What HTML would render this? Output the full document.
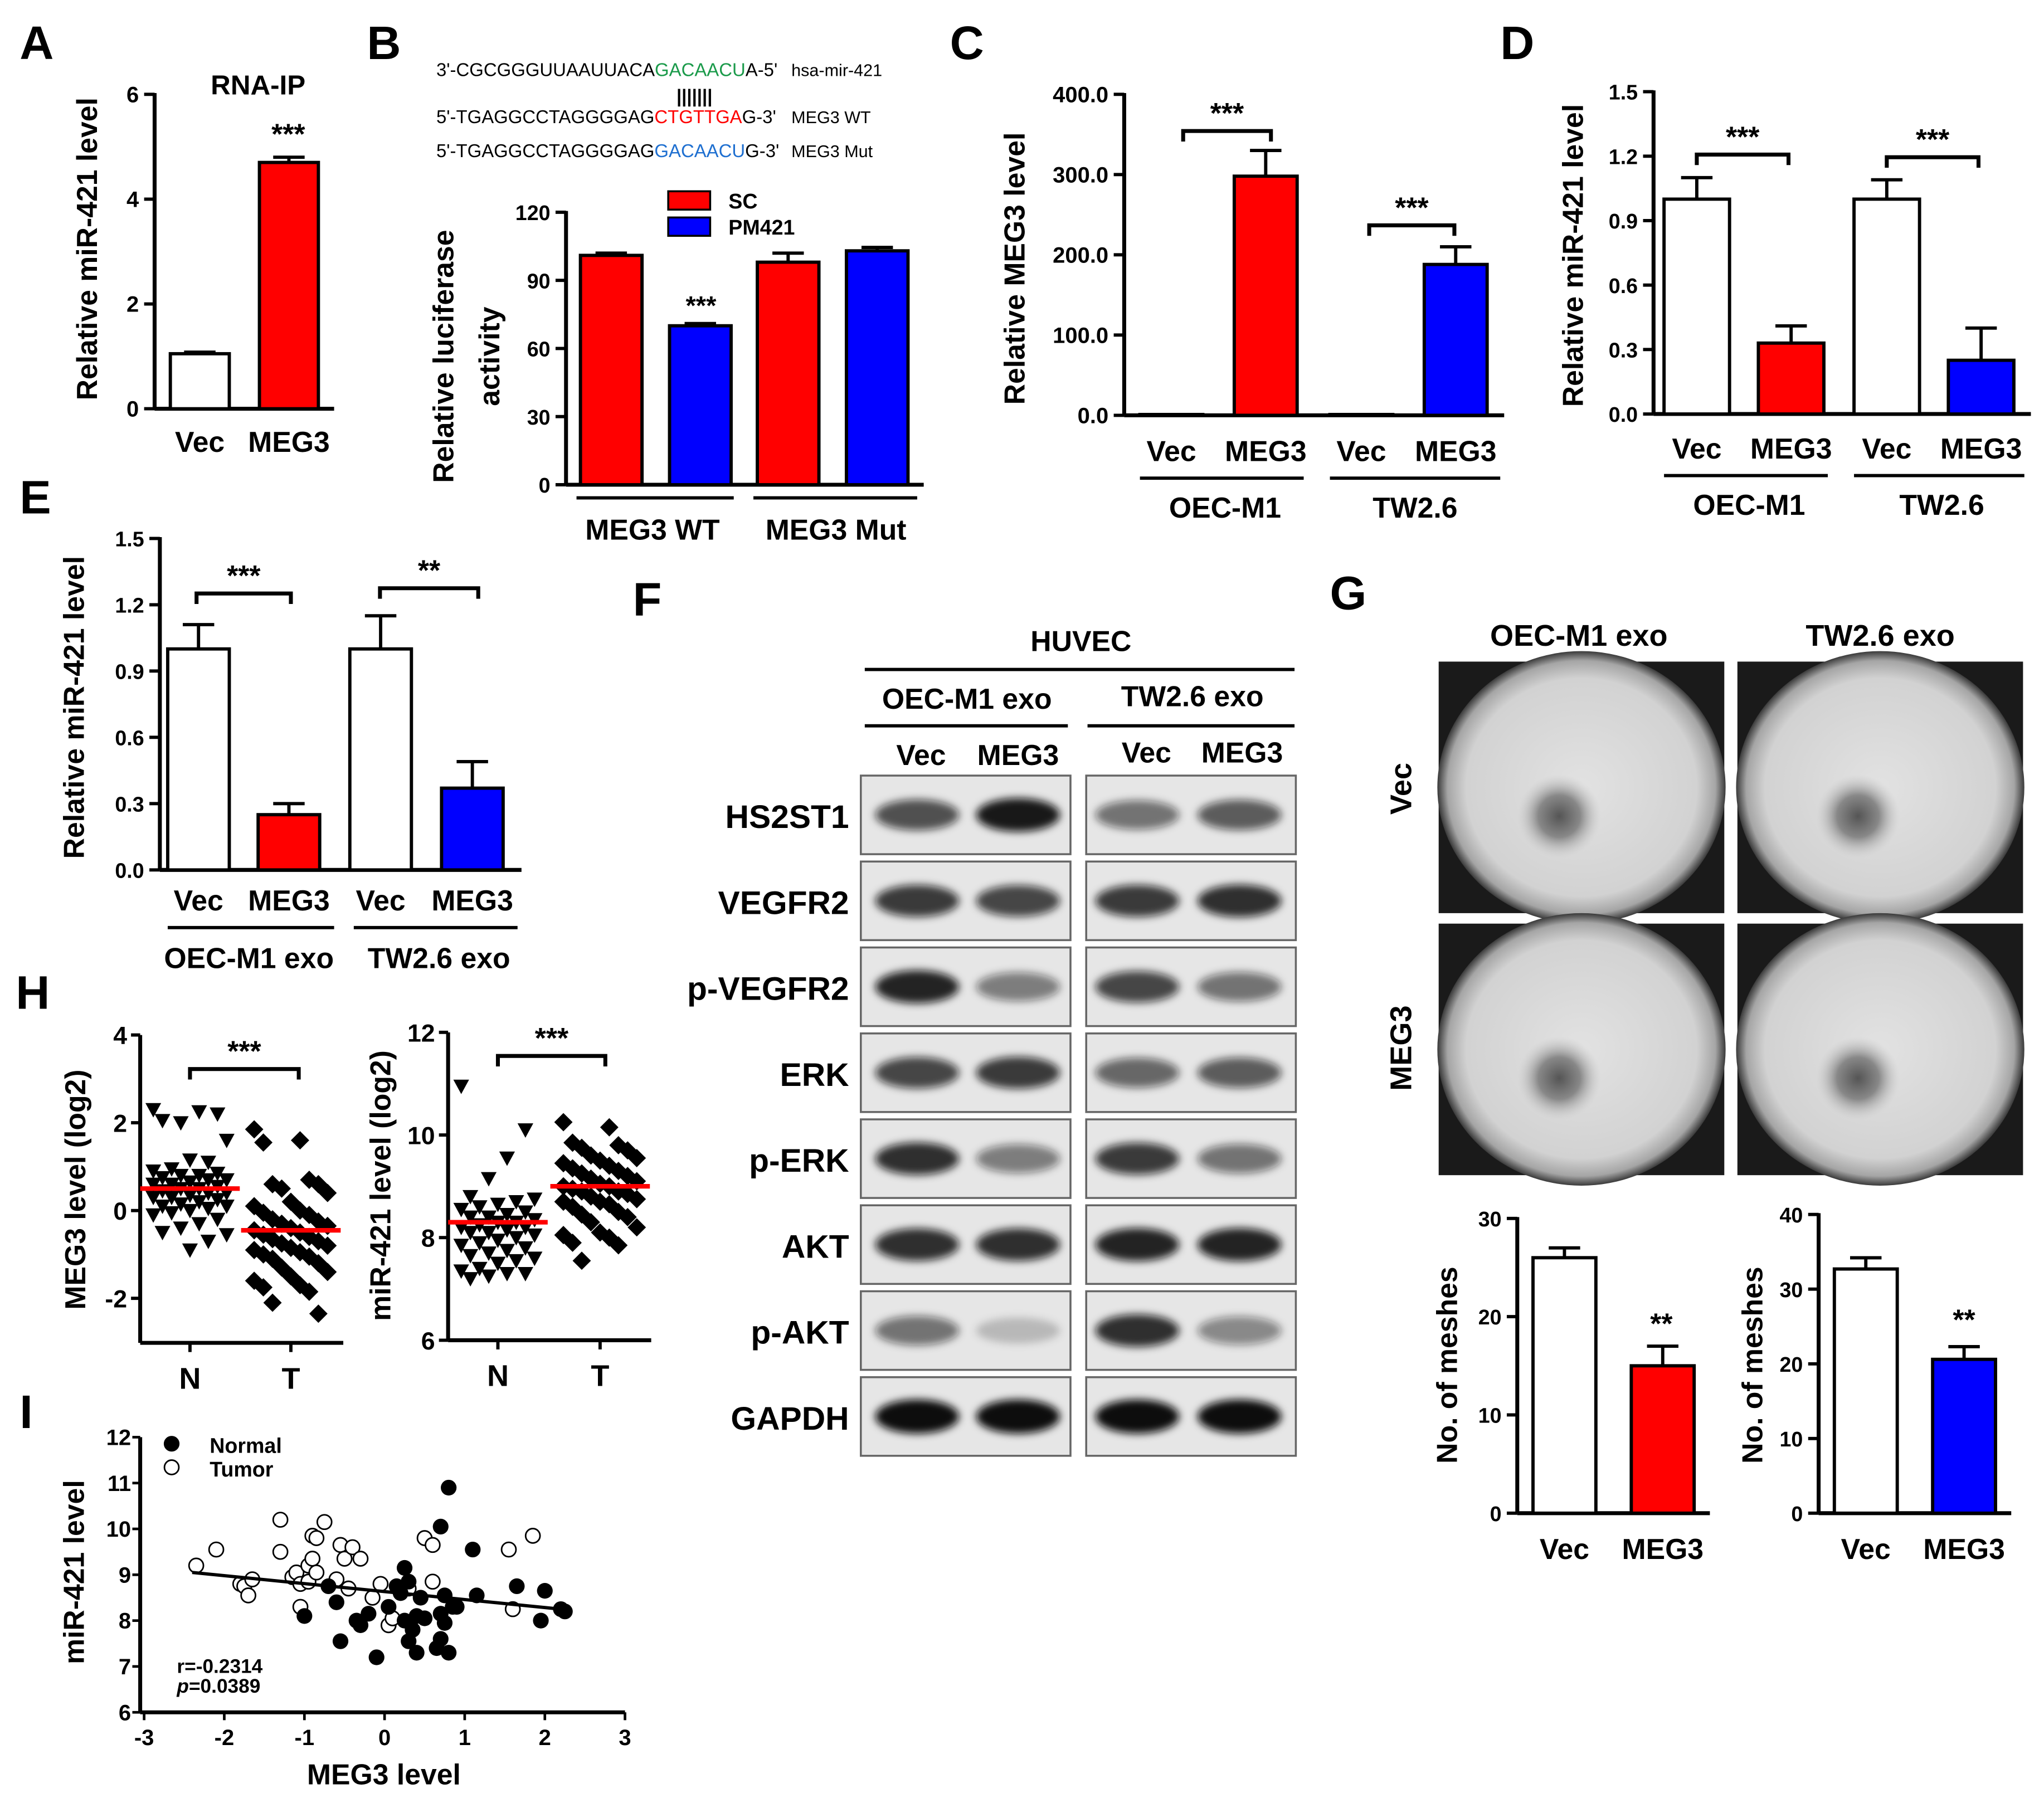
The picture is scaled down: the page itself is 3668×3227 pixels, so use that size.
<!DOCTYPE html>
<html><head><meta charset="utf-8">
<style>
html,body{margin:0;padding:0;background:#fff;}
svg{display:block;}
text{font-family:"Liberation Sans",sans-serif;font-weight:bold;fill:#000;}
</style></head>
<body>
<svg id="fig" width="3668" height="3227" viewBox="0 0 1560 1372.4" preserveAspectRatio="none" xmlns="http://www.w3.org/2000/svg">
<defs>
<filter id="blur" x="-30%" y="-60%" width="160%" height="220%"><feGaussianBlur stdDeviation="3"/></filter>
<radialGradient id="dish" cx="50%" cy="50%" r="50%">
<stop offset="0%" stop-color="#e2e2e2"/><stop offset="80%" stop-color="#d2d2d2"/><stop offset="93%" stop-color="#a5a5a5"/><stop offset="100%" stop-color="#3a3a3a"/>
</radialGradient>
<radialGradient id="spot" cx="50%" cy="50%" r="50%">
<stop offset="0%" stop-color="#555"/><stop offset="50%" stop-color="#888"/><stop offset="100%" stop-color="#c8c8c8" stop-opacity="0"/>
</radialGradient>
</defs>
<g id="root"></g>
</svg>
<script>
// ---------- data ----------
const aCats=["Vec","MEG3"], aVals=[1.05,4.7], aErr=[0.03,0.1], aTicks=[0,2,4,6];
const bCats=["SC","PM421","SC","PM421"], bVals=[101,70,98,103], bErr=[1,1,4,1.5], bTicks=[0,30,60,90,120];
const cCats=["Vec","MEG3","Vec","MEG3"], cVals=[1,298,1,188], cErr=[0,32,0,22], cTicks=[0,100,200,300,400];
const dCats=["Vec","MEG3","Vec","MEG3"], dVals=[1.0,0.33,1.0,0.25], dErr=[0.1,0.08,0.09,0.15], dTicks=[0,0.3,0.6,0.9,1.2,1.5];
const eCats=["Vec","MEG3","Vec","MEG3"], eVals=[1.0,0.25,1.0,0.37], eErr=[0.11,0.05,0.15,0.12], eTicks=[0,0.3,0.6,0.9,1.2,1.5];
const g1Cats=["Vec","MEG3"], g1Vals=[26,15], g1Err=[1,2], g1Ticks=[0,10,20,30];
const g2Cats=["Vec","MEG3"], g2Vals=[32.7,20.6], g2Err=[1.5,1.7], g2Ticks=[0,10,20,30,40];
const hMegN=[2.3,2.2,2.25,2.0,2.05,1.6,1.1,1.15,0.95,0.9,0.85,0.8,0.8,0.75,0.7,0.7,0.65,0.6,0.6,0.55,0.5,0.5,0.45,0.4,0.4,0.35,0.3,0.3,0.25,0.2,0.15,0.1,0.1,0.05,0.0,-0.05,-0.1,-0.2,-0.3,-0.4,-0.5,-0.55,-0.7,-0.9];
const hMegT=[1.85,1.6,1.55,0.7,0.6,0.6,0.5,0.4,0.2,0.1,0.0,-0.05,-0.1,-0.2,-0.25,-0.3,-0.35,-0.4,-0.45,-0.5,-0.55,-0.6,-0.65,-0.7,-0.75,-0.8,-0.85,-0.9,-0.95,-1.0,-1.05,-1.1,-1.2,-1.3,-1.4,-1.5,-1.6,-1.7,-1.75,-1.85,-2.1,-2.35];
const hMirN=[10.95,10.1,9.55,9.15,8.8,8.75,8.7,8.65,8.6,8.55,8.5,8.45,8.4,8.4,8.35,8.3,8.3,8.25,8.2,8.2,8.15,8.1,8.1,8.05,8.0,7.95,7.9,7.85,7.8,7.75,7.7,7.65,7.6,7.55,7.5,7.4,7.35,7.3,7.3,7.25,7.2];
const hMirT=[10.25,10.15,9.85,9.8,9.75,9.7,9.6,9.55,9.5,9.45,9.4,9.35,9.3,9.25,9.2,9.15,9.1,9.05,9.0,9.0,8.95,8.9,8.9,8.85,8.8,8.75,8.7,8.7,8.65,8.6,8.5,8.45,8.4,8.3,8.2,8.1,8.05,8.0,7.9,7.85,7.55];
const hMeans=[0.5,-0.45,8.3,9.0];
const iNormX=[0.8,0.7,1.1,0.25,-0.7,-0.6,-1,-0.55,-0.35,-0.3,-0.2,-0.1,0.05,0.15,0.2,0.25,0.3,0.3,0.4,0.35,0.4,0.5,0.45,0.65,0.7,0.7,0.75,0.75,0.8,0.85,0.9,1.15,1.65,1.95,2.0,2.2,2.25];
const iNormY=[10.9,10.05,9.55,9.15,8.75,8.4,8.1,7.55,8.0,7.9,8.15,7.2,8.3,8.75,8.6,8.0,7.55,8.85,8.1,7.8,7.3,8.05,8.5,7.4,7.6,8.15,8.55,7.95,7.3,8.3,8.3,8.55,8.75,8.0,8.65,8.25,8.2];
const iTumX=[-2.35,-2.1,-1.8,-1.75,-1.65,-1.7,-1.3,-1.3,-1.15,-1.1,-1.05,-1.05,-0.95,-0.95,-0.9,-0.9,-0.85,-0.85,-0.75,-0.55,-0.5,-0.4,-0.3,-0.6,-0.45,-0.15,-0.05,0.05,0.1,0.3,0.5,0.6,0.6,1.55,1.6,1.85];
const iTumY=[9.2,9.55,8.8,8.75,8.9,8.55,10.2,9.5,8.95,9.05,8.3,8.8,8.85,9.2,9.35,9.85,9.8,9.05,10.15,9.65,9.35,9.6,9.35,8.9,8.7,8.5,8.8,7.9,8.05,8.7,9.8,9.65,8.85,9.55,8.25,9.85];
const iFit=[-2.4,9.05,2.2,8.25];
const iXTicks=[-3,-2,-1,0,1,2,3], iYTicks=[6,7,8,9,10,11,12];
const blotNames=["HS2ST1","VEGFR2","p-VEGFR2","ERK","p-ERK","AKT","p-AKT","GAPDH"];
const blotInt=[[0.7,0.95,0.55,0.65],[0.8,0.75,0.8,0.85],[0.9,0.5,0.75,0.55],[0.75,0.8,0.6,0.65],[0.85,0.5,0.8,0.55],[0.85,0.85,0.9,0.9],[0.55,0.2,0.85,0.45],[1,1,1,1]];

// ---------- helpers ----------
const NS="http://www.w3.org/2000/svg", root=document.getElementById('root');
function el(tag,attrs,parent,txt){const e=document.createElementNS(NS,tag);for(const k in attrs)e.setAttribute(k,attrs[k]);if(txt!==undefined)e.textContent=txt;(parent||root).appendChild(e);return e;}
function txt(x,y,s,size,anchor,parent,rot){const t=el('text',{x:x,y:y,'font-size':size,'text-anchor':anchor||'middle'},parent,s);if(rot)t.setAttribute('transform','rotate(-90 '+x+' '+y+')');return t;}
function scale(d0,d1,r0,r1){return v=>r0+(v-d0)*(r1-r0)/(d1-d0);}

function barChart(name,cats,vals,errs,ticks,o){
  const g=el('g',{},root);
  
  
  const y=scale(ticks[0],ticks[ticks.length-1],o.y0,o.y1);
  el('line',{x1:o.ax,y1:o.y1-1,x2:o.ax,y2:o.y0,stroke:'#000','stroke-width':3},g);
  el('line',{x1:o.ax,y1:o.y0,x2:o.xEnd,y2:o.y0,stroke:'#000','stroke-width':3},g);
  ticks.forEach(t=>{const yy=y(t);el('line',{x1:o.ax-8,y1:yy,x2:o.ax,y2:yy,stroke:'#000','stroke-width':2.5},g);
    const l=txt(o.ax-12,yy+6,o.fmt?o.fmt(t):String(t),o.tf||17,'end',g);
    });
  cats.forEach((c,i)=>{const x0=o.bx[i],w=o.bw,v=vals[i],top=y(v);
    const b=el('rect',{x:x0,y:top,width:w,height:o.y0-top,fill:o.colors[i],stroke:'#000','stroke-width':2.5},g);
    
    if(errs[i]>0){const cx=x0+w/2,ye=y(v+errs[i]);el('line',{x1:cx,y1:top,x2:cx,y2:ye,stroke:'#000','stroke-width':2.5},g);el('line',{x1:cx-12,y1:ye,x2:cx+12,y2:ye,stroke:'#000','stroke-width':2.5},g);}
    if(o.xl){const l=txt(x0+w/2,o.xl,c,o.xf||22,'middle',g);}
  });
  return y;
}
function bracket(x1,x2,y,s){el('path',{d:`M${x1} ${y+8}V${y}H${x2}V${y+8}`,fill:'none',stroke:'#000','stroke-width':3});txt((x1+x2)/2,y-6,s,22);}
function letter(s,x,y){const t=txt(x,y,s,36,'start');}
function groupLine(x1,x2,y){el('line',{x1:x1,y1:y,x2:x2,y2:y,stroke:'#000','stroke-width':2.5});}

// ---------- Panel A ----------
letter('A',15,45);
barChart('panel-a-chart',aCats,aVals,aErr,aTicks,{ax:118,y0:312,y1:72,xEnd:255,bx:[130,198],bw:45,colors:['#fff','#f00'],xl:345});
txt(197,72,'RNA-IP',21);txt(220,110,'***',22);
txt(74,190,'Relative miR-421 level',22,'middle',null,true);

// ---------- Panel B ----------
letter('B',280,45);
const seqG=el('g',{'font-size':14},root);
function seq(y,parts,label){let t=el('text',{x:333,y:y,'font-size':14,'font-family':'Liberation Mono'},seqG);t.style.fontWeight='normal';parts.forEach(p=>{const s=el('tspan',{fill:p[1]},t,p[0]);});el('text',{x:604,y:y,'font-size':13},seqG,label).style.fontWeight='normal';}
seq(58,[["3'-CGCGGGUUAAUUACA","#000"],["GACAACU","#1a9a4a"],["A-5'","#000"]],'hsa-mir-421');
txt(530,78,'|||||||',14);
seq(94,[["5'-TGAGGCCTAGGGGAG","#000"],["CTGTTGA","#f00"],["G-3'","#000"]],'MEG3 WT');
seq(120,[["5'-TGAGGCCTAGGGGAG","#000"],["GACAACU","#1e6fd0"],["G-3'","#000"]],'MEG3 Mut');
barChart('panel-b-chart',bCats,bVals,bErr,bTicks,{ax:432,y0:370,y1:162,xEnd:705,bx:[443,511,578,646],bw:47,colors:['#f00','#00f','#f00','#00f'],tf:16});
txt(535,240,'***',20);
groupLine(440,560,380);groupLine(575,700,380);
txt(498,412,'MEG3 WT',22);txt(638,412,'MEG3 Mut',22);
el('rect',{x:510,y:146,width:32,height:14,fill:'#f00',stroke:'#000','stroke-width':1.5});txt(556,159,'SC',16,'start');
el('rect',{x:510,y:166,width:32,height:14,fill:'#00f',stroke:'#000','stroke-width':1.5});txt(556,179,'PM421',16,'start');
txt(346,272,'Relative luciferase',22,'middle',null,true);txt(381,272,'activity',22,'middle',null,true);

// ---------- Panel C ----------
letter('C',725,45);
barChart('panel-c-chart',cCats,cVals,cErr,cTicks,{ax:858,y0:317,y1:72,xEnd:1148,bx:[870,942,1015,1087],bw:48,colors:['#fff','#f00','#fff','#00f'],fmt:t=>t.toFixed(1),xl:352});
bracket(903,970,100,'***');bracket(1045,1110,172,'***');
groupLine(870,995,365);groupLine(1015,1145,365);
txt(935,395,'OEC-M1',22);txt(1080,395,'TW2.6',22);
txt(782,205,'Relative MEG3 level',22,'middle',null,true);

// ---------- Panel D ----------
letter('D',1145,45);
barChart('panel-d-chart',dCats,dVals,dErr,dTicks,{ax:1262,y0:316,y1:70,xEnd:1550,bx:[1270,1342,1415,1487],bw:50,colors:['#fff','#f00','#fff','#00f'],fmt:t=>t.toFixed(1),tf:16,xl:350});
bracket(1295,1365,118,'***');bracket(1440,1510,120,'***');
groupLine(1270,1395,363);groupLine(1415,1545,363);
txt(1335,393,'OEC-M1',22);txt(1482,393,'TW2.6',22);
txt(1208,195,'Relative miR-421 level',22,'middle',null,true);

// ---------- Panel E ----------
letter('E',15,392);
barChart('panel-e-chart',eCats,eVals,eErr,eTicks,{ax:122,y0:664,y1:411,xEnd:398,bx:[128,197,267,337],bw:47,colors:['#fff','#f00','#fff','#00f'],fmt:t=>t.toFixed(1),tf:16,xl:695});
bracket(150,222,453,'***');bracket(290,365,449,'**');
groupLine(128,255,708);groupLine(270,395,708);
txt(190,739,'OEC-M1 exo',22);txt(335,739,'TW2.6 exo',22);
txt(64,540,'Relative miR-421 level',22,'middle',null,true);

// ---------- Panel F ----------
letter('F',483,470);
txt(825,497,'HUVEC',22);groupLine(660,988,511);
txt(738,541,'OEC-M1 exo',22);txt(910,539,'TW2.6 exo',22);
groupLine(660,815,554);groupLine(830,988,554);
txt(703,584,'Vec',22);txt(777,584,'MEG3',22);txt(875,582,'Vec',22);txt(948,582,'MEG3',22);
const laneX=[700,777,868,946];
blotNames.forEach((n,r)=>{
  const top=592+r*65.6, g=el('g',{},root);
  
  
  el('rect',{x:657,y:top,width:160,height:60,fill:'#e6e6e6',stroke:'#666','stroke-width':1.5},g);
  el('rect',{x:829,y:top,width:160,height:60,fill:'#e6e6e6',stroke:'#666','stroke-width':1.5},g);
  blotInt[r].forEach((v,i)=>{el('ellipse',{cx:laneX[i],cy:top+30,rx:32,ry:9+4*v,fill:'#111','fill-opacity':v,filter:'url(#blur)'},g);});
  txt(648,top+40,n,25,'end',g);
});

// ---------- Panel G ----------
letter('G',1015,465);
txt(1205,493,'OEC-M1 exo',23);txt(1435,493,'TW2.6 exo',23);
txt(1077,602,'Vec',23,'middle',null,true);txt(1077,800,'MEG3',23,'middle',null,true);
[[1098,505],[1326,505],[1098,705],[1326,705]].forEach((p,i)=>{
  const g=el('g',{},root);
  
  
  el('rect',{x:p[0],y:p[1],width:218,height:192,fill:'#1a1a1a'},g);
  el('ellipse',{cx:p[0]+109,cy:p[1]+96,rx:110,ry:104,fill:'url(#dish)'},g);
  el('ellipse',{cx:p[0]+92,cy:p[1]+118,rx:32,ry:32,fill:'url(#spot)'},g);
});
barChart('panel-g-chart-oec',g1Cats,g1Vals,g1Err,g1Ticks,{ax:1158,y0:1155,y1:930,xEnd:1305,bx:[1170,1245],bw:48,colors:['#fff','#f00'],xl:1190,tf:16});
txt(1268,1018,'**',22);
txt(1112,1042,'No. of meshes',22,'middle',null,true);
barChart('panel-g-chart-tw',g2Cats,g2Vals,g2Err,g2Ticks,{ax:1388,y0:1155,y1:927,xEnd:1535,bx:[1400,1475],bw:48,colors:['#fff','#00f'],xl:1190,tf:16});
txt(1499,1015,'**',22);
txt(1345,1042,'No. of meshes',22,'middle',null,true);

// ---------- Panel H ----------
letter('H',12,770);
function dotPlot(name,vN,vT,yr,o,meanN,meanT){
  const g=el('g',{},root);
  
  
  const y=scale(yr[0],yr[1],o.y0,o.y1);
  el('line',{x1:o.ax,y1:o.y1,x2:o.ax,y2:o.yEnd,stroke:'#000','stroke-width':3},g);
  el('line',{x1:o.ax,y1:o.yEnd,x2:o.ax+155,y2:o.yEnd,stroke:'#000','stroke-width':3},g);
  o.ticks.forEach(t=>{el('line',{x1:o.ax-7,y1:y(t),x2:o.ax,y2:y(t),stroke:'#000','stroke-width':2.5},g);txt(o.ax-10,y(t)+7,String(t),19,'end',g);});
  [[o.nx,'N'],[o.tx,'T']].forEach(p=>{el('line',{x1:p[0],y1:o.yEnd,x2:p[0],y2:o.yEnd+7,stroke:'#000','stroke-width':2.5},g);txt(p[0],o.yEnd+35,p[1],23,'middle',g);});
  vN.forEach((v,i)=>{const x=o.nx+((i*7)%9-4)*7,yy=y(v);const p=el('path',{d:`M${x-6} ${yy-5}H${x+6}L${x} ${yy+6}Z`,fill:'#000'},g);});
  vT.forEach((v,i)=>{const x=o.tx+((i*5)%9-4)*7,yy=y(v);const p=el('path',{d:`M${x} ${yy-7}L${x+7} ${yy}L${x} ${yy+7}L${x-7} ${yy}Z`,fill:'#000'},g);});
  el('line',{x1:o.nx-38,y1:y(meanN),x2:o.nx+38,y2:y(meanN),stroke:'#f00','stroke-width':3.5},g);
  el('line',{x1:o.tx-38,y1:y(meanT),x2:o.tx+38,y2:y(meanT),stroke:'#f00','stroke-width':3.5},g);
}
dotPlot('panel-h-meg3',hMegN,hMegT,[-2,4],{ax:107,y0:991,y1:790,yEnd:1025,ticks:[-2,0,2,4],nx:145,tx:222},hMeans[0],hMeans[1]);
bracket(145,228,816,'***');
txt(65,908,'MEG3 level (log2)',22,'middle',null,true);
dotPlot('panel-h-mir421',hMirN,hMirT,[6,12],{ax:342,y0:1023,y1:788,yEnd:1023,ticks:[6,8,10,12],nx:380,tx:458},hMeans[2],hMeans[3]);
bracket(380,462,806,'***');
txt(298,905,'miR-421 level (log2)',22,'middle',null,true);

// ---------- Panel I ----------
letter('I',15,1090);
(function(){
  const g=el('g',{},root);
  
  
  const x=scale(-3,3,110,477), y=scale(6,12,1307,1097);
  el('line',{x1:107,y1:1097,x2:107,y2:1307,stroke:'#000','stroke-width':3},g);
  el('line',{x1:107,y1:1307,x2:477,y2:1307,stroke:'#000','stroke-width':3},g);
  iYTicks.forEach(t=>{el('line',{x1:101,y1:y(t),x2:107,y2:y(t),stroke:'#000','stroke-width':2},g);txt(100,y(t)+6,String(t),17,'end',g);});
  iXTicks.forEach(t=>{el('line',{x1:x(t),y1:1307,x2:x(t),y2:1313,stroke:'#000','stroke-width':2},g);txt(x(t),1332,String(t),17,'middle',g);});
  iTumX.forEach((v,i)=>{const c=el('circle',{cx:x(v),cy:y(iTumY[i]),r:5.5,fill:'#fff',stroke:'#000','stroke-width':1.2},g);});
  iNormX.forEach((v,i)=>{const c=el('circle',{cx:x(v),cy:y(iNormY[i]),r:6,fill:'#000'},g);});
  el('line',{x1:x(iFit[0]),y1:y(iFit[1]),x2:x(iFit[2]),y2:y(iFit[3]),stroke:'#000','stroke-width':2.5},g);
  el('circle',{cx:131,cy:1102,r:6,fill:'#000'},g);txt(160,1109,'Normal',16,'start',g);
  el('circle',{cx:131,cy:1120,r:5.5,fill:'#fff',stroke:'#000','stroke-width':1.2},g);txt(160,1127,'Tumor',16,'start',g);
  txt(135,1277,'r=-0.2314',15,'start',g);
  const p=txt(135,1292,'',15,'start',g);el('tspan',{'font-style':'italic'},p,'p');el('tspan',{},p,'=0.0389');
  txt(293,1362,'MEG3 level',22,'middle',g);
  txt(64,1200,'miR-421 level',22,'middle',g,true);
})();
</script>
</body></html>
